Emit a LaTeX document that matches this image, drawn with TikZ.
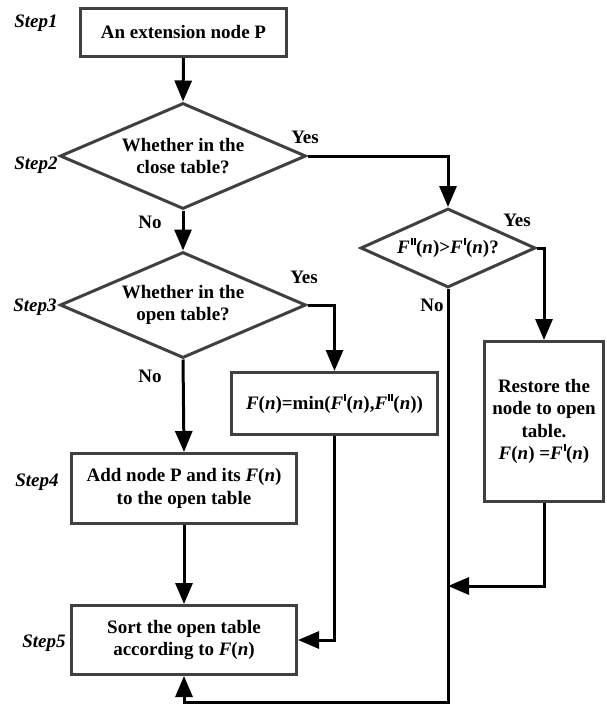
\documentclass[tikz,border=0pt]{standalone}
\usepackage{fontspec}
\setmainfont{Liberation Serif}
\usetikzlibrary{shapes.geometric,arrows.meta}
\definecolor{boxgray}{RGB}{64,64,64}
% F(n) with italic F and n, and straight upright prime marks
\newcommand\Fn{\textit{F}(\textit{n})}
\newcommand\sq{\kern1pt\rule[8.5pt]{1.7pt}{7pt}\kern0.5pt}
\newcommand\dq{\kern1pt\rule[8.5pt]{1.7pt}{7pt}\kern1.3pt\rule[8.5pt]{1.7pt}{7pt}\kern0.5pt}
\begin{document}
\begin{tikzpicture}[x=1pt,y=-1pt,
  every node/.style={font=\fontsize{19}{22.5}\selectfont\bfseries},
  box/.style={rectangle,draw=boxgray,line width=3pt,fill=white,inner sep=0pt,align=center},
  dia/.style={diamond,draw=boxgray,line width=3pt,fill=white,inner sep=0pt,align=center},
  arr/.style={line width=3pt,-{Triangle[length=21pt,width=17pt]}},
  conn/.style={line width=3pt},
  steplabel/.style={font=\fontsize{19}{22}\selectfont\bfseries\itshape},
  yn/.style={font=\fontsize{19}{22}\selectfont\bfseries},
]
\useasboundingbox (0,0) rectangle (607,704);

% process boxes and decisions
\node[box,minimum width=206pt,minimum height=48pt] (s1) at (183.5,32.5) {An extension node P};
\node[dia,minimum width=246pt,minimum height=106pt,shape aspect=2.3] (d1) at (183,156) {Whether in the\\close table?};
\node[dia,minimum width=246pt,minimum height=106pt,shape aspect=2.3] (d2) at (183,305) {Whether in the\\open table?};
\node[dia,minimum width=175pt,minimum height=79pt,shape aspect=2.2] (d3) at (448,248) {\textit{F}\dq(\textit{n})>\textit{F}\sq(\textit{n})?};
\node[box,minimum width=206pt,minimum height=62pt] (fmin) at (334.5,403.5) {\Fn=min(\textit{F}\sq(\textit{n}),\textit{F}\dq(\textit{n}))};
\node[box,minimum width=119pt,minimum height=160pt] (rest) at (544,421.5) {Restore the\\node to open\\table.\\\Fn{} =\textit{F}\sq(\textit{n})};
\node[box,minimum width=225pt,minimum height=70pt] (s4) at (184,488.5) {Add node P and its \Fn\\to the open table};
\node[box,minimum width=225pt,minimum height=69pt] (s5) at (184,640) {Sort the open table\\according to \Fn};

% step labels
\node[steplabel] (l1) at (36,23) {Step1};
\node[steplabel] (l2) at (36,165) {Step2};
\node[steplabel] (l3) at (35,307) {Step3};
\node[steplabel] (l4) at (37,482) {Step4};
\node[steplabel] (l5) at (44,643) {Step5};

% branch labels
\node[yn] (y1) at (305,137) {Yes};
\node[yn] (n1) at (150,222) {No};
\node[yn] (y2) at (304,277) {Yes};
\node[yn] (n2) at (150,376) {No};
\node[yn] (y3) at (517,220) {Yes};
\node[yn] (n3) at (432,305) {No};

% helper points of the return loop
\coordinate (loop) at (448,702);
\coordinate (join) at (448,586);

% connectors
\draw[arr] (s1.south) -- (d1.north);
\draw[arr] (d1.east) -| (d3.north);
\draw[arr] (d1.south) -- (d2.north);
\draw[arr] (d2.east) -| (fmin.north);
\draw[arr] (d2.south) -- (s4.north);
\draw[arr] (s4.south) -- (s5.north);
\draw[arr] (fmin.south) |- (s5.east);
\draw[arr] (d3.east) -| (rest.north);
\draw[arr] (rest.south) |- (join);
\draw[arr] (d3.south) -- (loop) -| (s5.south);
\end{tikzpicture}
\end{document}
